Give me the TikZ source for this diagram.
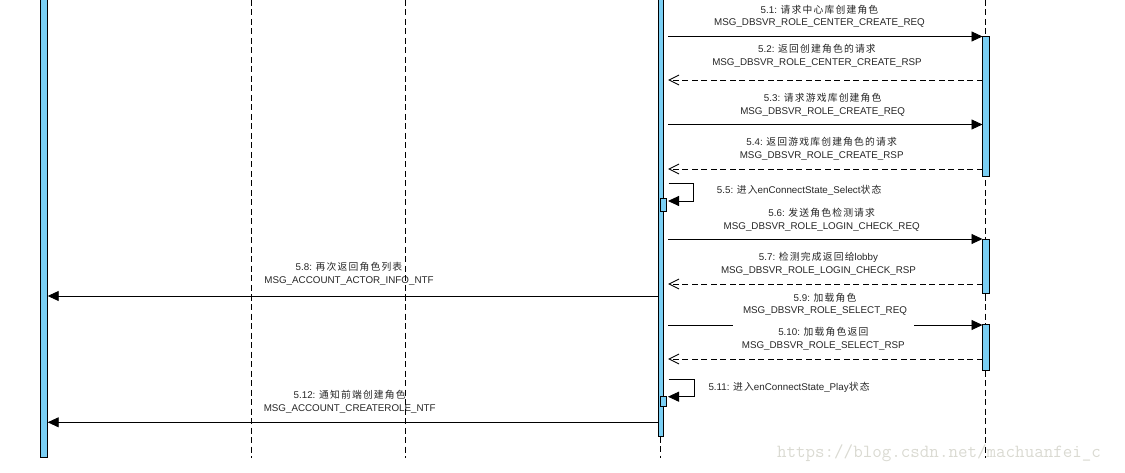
\documentclass[tikz,border=0pt]{standalone}
\usepackage{fontspec}
\setmainfont{Liberation Sans}
\newfontfamily\cjkf{Noto Sans CJK SC}[LetterSpace=12]
\usetikzlibrary{arrows.meta}
\definecolor{actblue}{RGB}{122,207,244}
\definecolor{txtc}{RGB}{38,38,38}
\definecolor{wmc}{RGB}{218,218,210}
\newcommand\zh[1]{{\cjkf #1}}
\begin{document}
\begin{tikzpicture}[x=1pt,y=-1pt,
  lifeline/.style={line width=0.9pt, dash pattern=on 6pt off 3.5pt},
  actbar/.style={draw=black, fill=actblue, line width=0.9pt},
  callmsg/.style={line width=0.9pt, -{Triangle[length=11pt,width=10pt]}},
  retmsg/.style={line width=0.9pt, dash pattern=on 6pt off 3.5pt, -{Straight Barb[length=10pt,width=10pt]}},
  lbl/.style={inner xsep=9pt, inner ysep=2.5pt, fill=white, text=txtc, align=center, font=\fontsize{9.8}{12.7}\selectfont},
  slbl/.style={inner sep=0pt, text=txtc, anchor=west, font=\fontsize{9.8}{12.7}\selectfont},
  wmark/.style={inner sep=0pt, text=wmc, font=\ttfamily\fontsize{18.5}{20}\selectfont}
]
\useasboundingbox (0,0) rectangle (1125,473);
\clip (0,0) rectangle (1125,473);

% message end points
\coordinate (m1s) at (668,36.5);   \coordinate (m1e) at (982.5,36.5);
\coordinate (m2s) at (982.5,80);   \coordinate (m2e) at (668,80);
\coordinate (m3s) at (668,124.5);  \coordinate (m3e) at (982.5,124.5);
\coordinate (m4s) at (982.5,169);  \coordinate (m4e) at (668,169);
\coordinate (m5s) at (668.7,183.3);\coordinate (m5e) at (668,201);
\coordinate (m6s) at (668,239);    \coordinate (m6e) at (982.5,239);
\coordinate (m7s) at (982.5,284);  \coordinate (m7e) at (668,284);
\coordinate (m8s) at (658.3,296);  \coordinate (m8e) at (47.7,296);
\coordinate (m9s) at (668,325);    \coordinate (m9e) at (982.5,325);
\coordinate (m10s) at (982.5,359); \coordinate (m10e) at (668,359);
\coordinate (m11s) at (668.7,379.3);\coordinate (m11e) at (668,396.7);
\coordinate (m12s) at (658.3,422.3);\coordinate (m12e) at (47.7,422.3);

% messages
\draw[callmsg] (m1s) -- (m1e);
\draw[retmsg]  (m2s) -- (m2e);
\draw[callmsg] (m3s) -- (m3e);
\draw[retmsg]  (m4s) -- (m4e);
\draw[callmsg] (m5s) -- ++(25,0) |- (m5e);
\draw[callmsg] (m6s) -- (m6e);
\draw[retmsg]  (m7s) -- (m7e);
\draw[callmsg] (m8s) -- (m8e);
\draw[callmsg] (m9s) -- (m9e);
\draw[retmsg]  (m10s) -- (m10e);
\draw[callmsg] (m11s) -- ++(25.3,0) |- (m11e);
\draw[callmsg] (m12s) -- (m12e);

% labels
\node[lbl] (l1) at (819.5,16.3) {5.1: \zh{请求中心库创建角色}\\MSG\_DBSVR\_ROLE\_CENTER\_CREATE\_REQ};
\node[lbl] (l2) at (817,55.7) {5.2: \zh{返回创建角色的请求}\\MSG\_DBSVR\_ROLE\_CENTER\_CREATE\_RSP};
\node[lbl] (l3) at (822.7,104.5) {5.3: \zh{请求游戏库创建角色}\\MSG\_DBSVR\_ROLE\_CREATE\_REQ};
\node[lbl] (l4) at (821.7,148.9) {5.4: \zh{返回游戏库创建角色的请求}\\MSG\_DBSVR\_ROLE\_CREATE\_RSP};
\node[slbl] (l5) at (716.7,190) {5.5: \zh{进入}enConnectState\_Select\zh{状态}};
\node[lbl] (l6) at (821.7,219.7) {5.6: \zh{发送角色检测请求}\\MSG\_DBSVR\_ROLE\_LOGIN\_CHECK\_REQ};
\node[lbl] (l7) at (818.5,263.7) {5.7: \zh{检测完成返回给}lobby\\MSG\_DBSVR\_ROLE\_LOGIN\_CHECK\_RSP};
\node[lbl,fill=none] (l8) at (349,274) {5.8: \zh{再次返回角色列表}\\MSG\_ACCOUNT\_ACTOR\_INFO\_NTF};
\node[lbl] (l9) at (825,304.2) {5.9: \zh{加载角色}\\MSG\_DBSVR\_ROLE\_SELECT\_REQ};
\node[lbl] (l10) at (823.3,338.5) {5.10: \zh{加载角色返回}\\MSG\_DBSVR\_ROLE\_SELECT\_RSP};
\node[slbl] (l11) at (708.3,387.3) {5.11: \zh{进入}enConnectState\_Play\zh{状态}};
\node[lbl,fill=none] (l12) at (349.7,402) {5.12: \zh{通知前端创建角色}\\MSG\_ACCOUNT\_CREATEROLE\_NTF};

% lifelines
\draw[lifeline] (251.3,0) -- (251.3,458);
\draw[lifeline] (405.7,0) -- (405.7,458);
\draw[lifeline] (660.8,436.7) -- (660.8,458);
\draw[lifeline] (985.8,0) -- (985.8,458);

% activation bars
\draw[actbar] (40,-3) rectangle (47.7,457.5);
\draw[actbar] (658.3,-3) rectangle (663.3,436.7);
\draw[actbar] (660.3,198.3) rectangle (666.3,211);
\draw[actbar] (660.3,396) rectangle (666.3,406.5);
\draw[actbar] (982.5,36) rectangle (989.5,176.7);
\draw[actbar] (982.5,239.3) rectangle (989.5,293);
\draw[actbar] (982.5,324) rectangle (989.5,370);

% watermark
\node[wmark] (wm) at (939,453) {https://blog.csdn.net/machuanfei\_c};
\end{tikzpicture}
\end{document}
